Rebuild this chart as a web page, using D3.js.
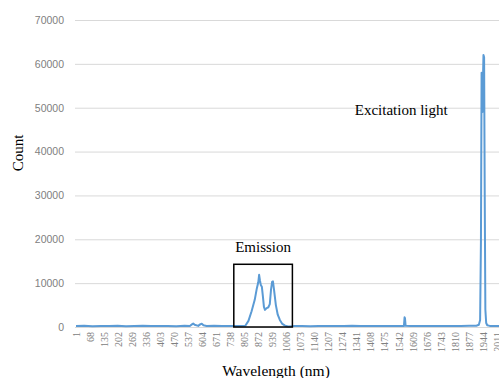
<!DOCTYPE html>
<html lang="en">
<head>
<meta charset="utf-8">
<title>Spectrum</title>
<style>
  body { margin: 0; background: #fff; }
  svg { display: block; }
  .tick text { fill: #808080; }
  .ttl { font-family: "Liberation Serif", "Times New Roman", serif; fill: #000; }
</style>
<script src="https://cdn.jsdelivr.net/npm/d3@7"></script>
</head>
<body>
<script>
// channel index (category) and counts
var channel = [1, 40, 80, 120, 160, 200, 240, 280, 320, 360, 400, 440, 480, 520, 545,
  555, 561, 568, 585, 596, 602, 610, 625, 660, 700, 740, 780, 810, 825, 840, 855, 865,
  872, 876, 880, 884, 889, 894, 899, 904, 912, 920, 927, 933, 938, 942, 947, 956, 965,
  975, 987, 1000, 1015, 1040, 1080, 1120, 1160, 1200, 1240, 1280, 1320, 1360, 1400,
  1440, 1480, 1520, 1555, 1568, 1571, 1573, 1576, 1600, 1640, 1680, 1720, 1760, 1800,
  1840, 1880, 1914, 1926, 1932, 1936, 1939, 1941, 1943, 1945, 1948, 1951, 1954, 1957,
  1961, 1966, 1978, 2000, 2030, 2048];
var counts = [200, 260, 180, 240, 210, 280, 190, 230, 260, 200, 250, 220, 180, 260, 240,
  600, 800, 500, 250, 650, 750, 400, 220, 260, 200, 240, 210, 300, 1400, 3600, 6200, 8800,
  10200, 11900, 10600, 9600, 9200, 7000, 4600, 3900, 4300, 4500, 5200, 8600, 10300, 10400,
  8600, 5000, 2800, 1600, 700, 300, 120, 200, 230, 190, 250, 210, 240, 200, 260, 210, 230,
  200, 250, 220, 240, 250, 2200, 2000, 260, 210, 240, 200, 250, 210, 240, 220, 260, 300,
  500, 1600, 20000, 58000, 57500, 49000, 55000, 62000, 61500, 30000, 4000,
  900, 400, 250, 220, 240, 200];

var yTicks = [0, 10000, 20000, 30000, 40000, 50000, 60000, 70000];
var xTickLabels = [1, 68, 135, 202, 269, 336, 403, 470, 537, 604, 671, 738, 805, 872, 939,
  1006, 1073, 1140, 1207, 1274, 1341, 1408, 1475, 1542, 1609, 1676, 1743, 1810, 1877,
  1944, 2011];

// emission box in data units
var boxX = [755, 1035], boxY = [0, 14300];

var W = 499, H = 378;
var svg = d3.select("body").append("svg").attr("width", W).attr("height", H);

var x = d3.scaleLinear().domain([1, 2048]).range([76, 504.4]);
var y = d3.scaleLinear().domain([0, 70000]).range([327, 20]);

// gridlines + y labels
var yAxis = svg.append("g")
  .attr("transform", "translate(75,0)")
  .call(d3.axisLeft(y).tickValues(yTicks).tickSize(-430).tickPadding(11).tickFormat(d3.format("d")));
yAxis.select(".domain").remove();
yAxis.selectAll("line").attr("stroke", "#d9d9d9").attr("stroke-width", 1);
yAxis.selectAll("text")
  .style("font-family", "'Liberation Sans', Arial, sans-serif")
  .style("font-size", "10.5px");

// x labels (rotated)
var xAxis = svg.append("g")
  .attr("transform", "translate(0,327)")
  .call(d3.axisBottom(x).tickValues(xTickLabels).tickSize(0).tickFormat(d3.format("d")));
xAxis.select(".domain").remove();
xAxis.selectAll("text")
  .style("font-family", "'Liberation Serif', 'Times New Roman', serif")
  .style("font-size", "10px")
  .attr("text-anchor", "end")
  .attr("transform", "rotate(-90)")
  .attr("x", -5).attr("y", 0).attr("dy", "0.35em");

// spectrum
var pts = channel.map(function(c, i) { return [c, counts[i]]; });
svg.append("path")
  .datum(pts)
  .attr("fill", "none")
  .attr("stroke", "#5b9bd5")
  .attr("stroke-width", 2)
  .attr("stroke-linejoin", "round")
  .attr("d", d3.line().x(function(d) { return x(d[0]); }).y(function(d) { return y(d[1]); }));

// box
svg.append("rect")
  .attr("x", x(boxX[0])).attr("y", y(boxY[1]))
  .attr("width", x(boxX[1]) - x(boxX[0]))
  .attr("height", y(boxY[0]) - y(boxY[1]))
  .attr("fill", "none").attr("stroke", "#000").attr("stroke-width", 1.5);

// annotations
svg.append("text").attr("class", "ttl")
  .attr("x", x(895)).attr("y", y(17200))
  .attr("text-anchor", "middle").style("font-size", "15px").text("Emission");
svg.append("text").attr("class", "ttl")
  .attr("x", x(1333)).attr("y", y(48300))
  .style("font-size", "15px").text("Excitation light");

// axis titles
svg.append("text").attr("class", "ttl")
  .attr("transform", "translate(23,153) rotate(-90)")
  .attr("text-anchor", "middle").style("font-size", "15px").text("Count");
svg.append("text").attr("class", "ttl")
  .attr("x", 276).attr("y", 376)
  .attr("text-anchor", "middle").style("font-size", "15.5px").text("Wavelength (nm)");
</script>
</body>
</html>
